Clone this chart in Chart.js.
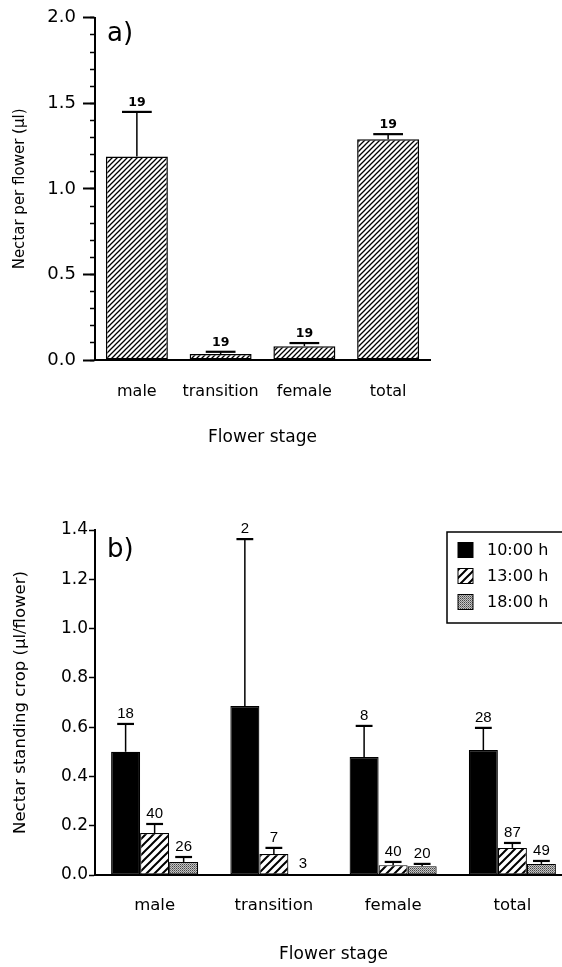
<!DOCTYPE html>
<html>
<head>
<meta charset="utf-8">
<script src="https://cdn.jsdelivr.net/npm/chart.js@4.4.0/dist/chart.umd.min.js"></script>
<style>
  html, body { margin: 0; padding: 0; background: #fff; overflow: hidden; }
  #wrapA { position: absolute; left: 0; top: 0; width: 562px; height: 460px; }
  #wrapB { position: absolute; left: 0; top: 460px; width: 562px; height: 507px; overflow: hidden; }
  #innerB { position: relative; width: 572px; height: 507px; }
</style>
</head>
<body>
<div id="wrapA"><canvas id="chartA"></canvas></div>
<div id="wrapB"><div id="innerB"><canvas id="chartB"></canvas></div></div>
<script>
// a) nectar per flower
const stages = ['male', 'transition', 'female', 'total'];
const nectarA = [1.19, 0.035, 0.081, 1.29];
const seA = [0.26, 0.013, 0.018, 0.03];
const nA = [19, 19, 19, 19];
const ticksA = [0, 0.5, 1.0, 1.5, 2.0];

// b) nectar standing crop
const times = ['10:00 h', '13:00 h', '18:00 h'];
const crop10 = [0.50, 0.686, 0.479, 0.507];
const se10 = [0.113, 0.677, 0.126, 0.09];
const crop13 = [0.17, 0.085, 0.04, 0.11];
const se13 = [0.037, 0.025, 0.013, 0.02];
const crop18 = [0.053, 0.003, 0.036, 0.045];
const se18 = [0.02, 0, 0.009, 0.012];
const n10 = [18, 2, 8, 28];
const n13 = [40, 7, 40, 87];
const n18 = [26, 3, 20, 49];

Chart.defaults.font.family = "'DejaVu Sans', sans-serif";
Chart.defaults.color = '#000';

function hatch(ctx, size, lw) {
  const c = document.createElement('canvas');
  c.width = c.height = size;
  const g = c.getContext('2d');
  g.fillStyle = '#fff';
  g.fillRect(0, 0, size, size);
  g.strokeStyle = '#000';
  g.lineWidth = lw;
  g.beginPath();
  g.moveTo(-1, size + 1); g.lineTo(size + 1, -1);
  g.moveTo(-2, 2); g.lineTo(2, -2);
  g.moveTo(size - 2, size + 2); g.lineTo(size + 2, size - 2);
  g.stroke();
  return ctx.createPattern(c, 'repeat');
}

function stipple(ctx) {
  const c = document.createElement('canvas');
  c.width = c.height = 2;
  const g = c.getContext('2d');
  g.fillStyle = '#c4c4c4';
  g.fillRect(0, 0, 2, 2);
  g.fillStyle = '#444';
  g.fillRect(0, 0, 1, 1);
  g.fillStyle = '#7a7a7a';
  g.fillRect(1, 1, 1, 1);
  return ctx.createPattern(c, 'repeat');
}

// error bars + sample sizes above them
function errorBars(errs, counts, capFrac, font) {
  return {
    id: 'errorBars',
    afterDatasetsDraw(chart) {
      const ctx = chart.ctx;
      const y = chart.scales.y;
      ctx.save();
      chart.data.datasets.forEach((ds, i) => {
        chart.getDatasetMeta(i).data.forEach((bar, j) => {
          const top = y.getPixelForValue(ds.data[j] + errs[i][j]);
          const cap = bar.width * capFrac / 2;
          ctx.strokeStyle = '#000';
          if (errs[i][j] > 0) {
            ctx.lineWidth = 1.5;
            ctx.beginPath();
            ctx.moveTo(bar.x, bar.y);
            ctx.lineTo(bar.x, top);
            ctx.stroke();
            ctx.lineWidth = 2.2;
            ctx.beginPath();
            ctx.moveTo(bar.x - cap, top);
            ctx.lineTo(bar.x + cap, top);
            ctx.stroke();
          }
          ctx.fillStyle = '#000';
          ctx.font = font;
          ctx.textAlign = 'center';
          ctx.textBaseline = 'bottom';
          ctx.fillText(String(counts[i][j]), bar.x, top - 3);
        });
      });
      ctx.restore();
    }
  };
}

function panelLabel(text, dy) {
  return {
    id: 'panelLabel',
    afterDraw(chart) {
      const ctx = chart.ctx;
      ctx.save();
      ctx.font = "26px 'DejaVu Sans'";
      ctx.fillStyle = '#000';
      ctx.textAlign = 'left';
      ctx.textBaseline = 'alphabetic';
      ctx.fillText(text, chart.chartArea.left + 12, chart.chartArea.top + dy);
      ctx.restore();
    }
  };
}

const boxLegend = {
  id: 'boxLegend',
  afterDraw(chart) {
    const ctx = chart.ctx;
    const lx = 447, ly = chart.chartArea.top + 2;
    ctx.save();
    ctx.strokeStyle = '#000';
    ctx.lineWidth = 1.5;
    ctx.strokeRect(lx, ly, 140, 91);
    ctx.font = "16px 'DejaVu Sans'";
    ctx.textAlign = 'left';
    ctx.textBaseline = 'middle';
    chart.data.datasets.forEach((ds, i) => {
      const cy = ly + 18 + i * 26;
      ctx.fillStyle = ds.backgroundColor;
      ctx.fillRect(458, cy - 7.5, 15, 15);
      ctx.lineWidth = 1;
      ctx.strokeRect(458, cy - 7.5, 15, 15);
      ctx.fillStyle = '#000';
      ctx.fillText(ds.label, 487, cy + 1);
    });
    ctx.restore();
  }
};

const ctxA = document.getElementById('chartA').getContext('2d');
new Chart(ctxA, {
  type: 'bar',
  data: {
    labels: stages,
    datasets: [{
      label: 'nectar',
      data: nectarA,
      backgroundColor: hatch(ctxA, 5, 1.3),
      borderColor: '#000',
      borderWidth: 1.5,
      borderSkipped: false,
      barPercentage: 0.74,
      categoryPercentage: 1
    }]
  },
  options: {
    responsive: true,
    maintainAspectRatio: false,
    animation: false,
    layout: { padding: { top: 16, right: 132, left: 0, bottom: 0 } },
    plugins: { legend: { display: false }, tooltip: { enabled: false } },
    scales: {
      x: {
        grid: { display: false, drawTicks: false },
        border: { color: '#000', width: 2 },
        ticks: { font: { size: 16 }, padding: 22, autoSkip: false, maxRotation: 0, minRotation: 0 },
        title: { display: true, text: 'Flower stage', font: { size: 17 }, padding: { top: 0, bottom: 12 } },
        afterFit(s) { s.height = 100; }
      },
      y: {
        weight: 1,
        min: 0, max: 2,
        afterBuildTicks(s) { s.ticks = ticksA.map(v => ({ value: v })); },
        ticks: { font: { size: 18 }, padding: 7, callback: v => v.toFixed(1) },
        grid: { drawOnChartArea: false, tickLength: 12, tickWidth: 2, tickColor: '#000' },
        border: { color: '#000', width: 2 },
        title: { display: true, text: 'Nectar per flower (μl)', font: { size: 15 }, padding: { top: 11, bottom: 0 } },
        afterFit(s) { s.width = 95; }
      },
      y2: {
        position: 'left',
        weight: 0,
        min: 0, max: 2,
        ticks: { display: false, stepSize: 0.1 },
        grid: { drawOnChartArea: false, tickLength: 5, tickWidth: 1.5, tickColor: '#000' },
        border: { display: false },
        afterFit(s) { s.width = 0; }
      }
    }
  },
  plugins: [errorBars([seA], [nA], 0.48, "bold 12.5px 'DejaVu Sans'"), panelLabel('a)', 23)]
});

const ctxB = document.getElementById('chartB').getContext('2d');
new Chart(ctxB, {
  type: 'bar',
  data: {
    labels: stages,
    datasets: [
      { label: times[0], data: crop10, backgroundColor: '#000' },
      { label: times[1], data: crop13, backgroundColor: hatch(ctxB, 8, 2) },
      { label: times[2], data: crop18, backgroundColor: stipple(ctxB) }
    ].map(d => Object.assign(d, {
      borderColor: '#000', borderWidth: 1.2, borderSkipped: false,
      barPercentage: 1, categoryPercentage: 0.73
    }))
  },
  options: {
    responsive: true,
    maintainAspectRatio: false,
    animation: false,
    layout: { padding: { top: 70, right: 0, left: 0, bottom: 0 } },
    plugins: { legend: { display: false }, tooltip: { enabled: false } },
    scales: {
      x: {
        grid: { display: false, drawTicks: false },
        border: { color: '#000', width: 2 },
        ticks: { font: { size: 16.5 }, padding: 21, autoSkip: false, maxRotation: 0, minRotation: 0 },
        title: { display: true, text: 'Flower stage', font: { size: 17 }, padding: { top: 0, bottom: 2 } },
        afterFit(s) { s.height = 92; }
      },
      y: {
        min: 0, max: 1.4,
        ticks: { stepSize: 0.2, font: { size: 17 }, padding: 1, callback: v => v.toFixed(1) },
        grid: { drawOnChartArea: false, tickLength: 6, tickWidth: 1.5, tickColor: '#000' },
        border: { color: '#000', width: 2 },
        title: { display: true, text: 'Nectar standing crop (μl/flower)', font: { size: 16.5 }, padding: { top: 11, bottom: 0 } },
        afterFit(s) { s.width = 95; }
      }
    }
  },
  plugins: [errorBars([se10, se13, se18], [n10, n13, n18], 0.58, "15px 'Liberation Sans'"), panelLabel('b)', 27), boxLegend]
});
</script>
</body>
</html>
